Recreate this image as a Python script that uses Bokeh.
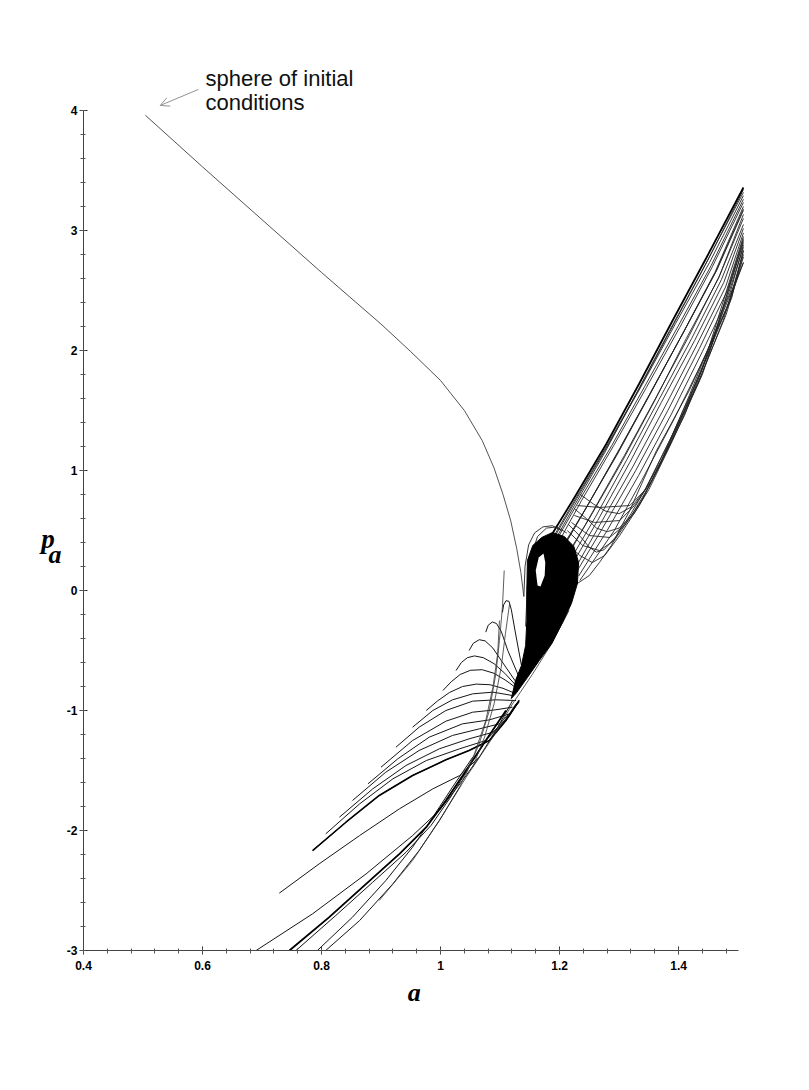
from bokeh.plotting import figure
from bokeh.models import FixedTicker, CustomJSTickFormatter, Label, Arrow, OpenHead
from bokeh.embed import file_html
from bokeh.resources import INLINE
import numpy as np

# ---------------- tick labels ----------------
x_ticks = [0.4, 0.6, 0.8, 1.0, 1.2, 1.4]
x_labels = ["0.4", "0.6", "0.8", "1", "1.2", "1.4"]
y_ticks = [-3, -2, -1, 0, 1, 2, 3, 4]
y_labels = ["-3", "-2", "-1", "0", "1", "2", "3", "4"]

# ---------------- data (a, p_a) ----------------
# trajectory from the sphere of initial conditions into the oscillation region
main_a = [0.504, 0.600, 0.700, 0.800, 0.900, 0.950, 1.000, 1.040, 1.070, 1.090, 1.105, 1.118, 1.128, 1.135, 1.140]
main_p = [3.96, 3.53, 3.09, 2.65, 2.22, 1.99, 1.75, 1.50, 1.25, 1.02, 0.80, 0.58, 0.35, 0.15, -0.05]

# densely filled oscillation region and the empty hole inside it
blob_a = [1.146, 1.155, 1.170, 1.188, 1.208, 1.224, 1.232, 1.230, 1.220, 1.205, 1.187, 1.166,
          1.146, 1.128, 1.119, 1.126, 1.136, 1.143, 1.145, 1.145]
blob_p = [0.250, 0.375, 0.442, 0.483, 0.450, 0.367, 0.233, 0.058, -0.108, -0.267, -0.442, -0.583,
          -0.725, -0.850, -0.900, -0.750, -0.625, -0.458, -0.250, 0.000]
hole_a = [1.163, 1.160, 1.165, 1.173, 1.176, 1.175, 1.168]
hole_p = [0.042, 0.167, 0.275, 0.308, 0.233, 0.125, 0.033]

# loops just outside the filled region
loop_a = [
    [1.140, 1.142, 1.148, 1.158, 1.172, 1.188, 1.203],
    [1.143, 1.146, 1.153, 1.163, 1.178, 1.195, 1.212],
]
loop_p = [
    [-0.050, 0.200, 0.380, 0.480, 0.530, 0.540, 0.500],
    [-0.300, 0.050, 0.300, 0.450, 0.520, 0.530, 0.480],
]

# expanding trajectories (upper band)
edge_a = [1.188, 1.222, 1.279, 1.334, 1.390, 1.447, 1.509]
edge_p = [0.475, 0.750, 1.225, 1.725, 2.250, 2.775, 3.358]

band_a = [
    [1.192, 1.225, 1.276, 1.329, 1.385, 1.444, 1.509],
    [1.190, 1.224, 1.280, 1.336, 1.392, 1.449, 1.509],
    [1.193, 1.229, 1.284, 1.339, 1.395, 1.452, 1.509],
    [1.196, 1.233, 1.288, 1.343, 1.399, 1.455, 1.509],
    [1.200, 1.237, 1.291, 1.346, 1.402, 1.457, 1.509],
    [1.203, 1.242, 1.296, 1.351, 1.407, 1.461, 1.509],
    [1.206, 1.245, 1.299, 1.353, 1.409, 1.463, 1.509],
    [1.208, 1.247, 1.301, 1.355, 1.410, 1.464, 1.509],
    [1.212, 1.250, 1.306, 1.360, 1.413, 1.467, 1.509],
    [1.217, 1.255, 1.309, 1.363, 1.418, 1.469, 1.509],
    [1.221, 1.260, 1.313, 1.367, 1.422, 1.472, 1.509],
    [1.225, 1.264, 1.318, 1.371, 1.427, 1.476, 1.509],
    [1.228, 1.268, 1.323, 1.377, 1.431, 1.479, 1.509],
    [1.230, 1.272, 1.328, 1.382, 1.435, 1.482, 1.509],
    [1.232, 1.280, 1.333, 1.388, 1.440, 1.486, 1.509],
    [1.234, 1.292, 1.338, 1.393, 1.445, 1.489, 1.509],
    [1.225, 1.250, 1.267, 1.287, 1.318, 1.363, 1.418, 1.481, 1.509],
    [1.208, 1.234, 1.255, 1.276, 1.301, 1.334, 1.368, 1.418, 1.469, 1.509],
    [1.213, 1.239, 1.267, 1.292, 1.321, 1.351, 1.385, 1.435, 1.486, 1.509],
    [1.220, 1.250, 1.284, 1.309, 1.338, 1.368, 1.410, 1.455, 1.509],
    [1.225, 1.259, 1.301, 1.326, 1.355, 1.388, 1.435, 1.475, 1.509],
    [1.230, 1.267, 1.318, 1.343, 1.371, 1.410, 1.455, 1.509],
    [1.215, 1.235, 1.250, 1.262, 1.275, 1.295, 1.320, 1.345, 1.380, 1.430, 1.480, 1.509],
    [1.225, 1.245, 1.262, 1.280, 1.300, 1.325, 1.350, 1.390, 1.440, 1.509],
    [1.235, 1.257, 1.278, 1.300, 1.322, 1.345, 1.385, 1.440, 1.509],
]
band_p = [
    [0.417, 0.708, 1.150, 1.642, 2.167, 2.708, 3.317],
    [0.450, 0.740, 1.210, 1.700, 2.220, 2.750, 3.340],
    [0.458, 0.767, 1.233, 1.717, 2.225, 2.733, 3.290],
    [0.430, 0.750, 1.210, 1.700, 2.200, 2.710, 3.260],
    [0.417, 0.750, 1.208, 1.692, 2.192, 2.700, 3.233],
    [0.350, 0.667, 1.125, 1.625, 2.142, 2.650, 3.200],
    [0.360, 0.690, 1.160, 1.650, 2.160, 2.660, 3.180],
    [0.375, 0.708, 1.183, 1.667, 2.167, 2.667, 3.167],
    [0.292, 0.600, 1.083, 1.583, 2.100, 2.600, 3.133],
    [0.317, 0.650, 1.125, 1.617, 2.125, 2.625, 3.100],
    [0.280, 0.610, 1.090, 1.590, 2.100, 2.590, 3.050],
    [0.250, 0.583, 1.067, 1.567, 2.083, 2.567, 3.017],
    [0.200, 0.550, 1.030, 1.530, 2.050, 2.530, 2.980],
    [0.167, 0.517, 1.000, 1.500, 2.017, 2.500, 2.933],
    [0.120, 0.500, 0.960, 1.470, 1.990, 2.470, 2.880],
    [0.083, 0.500, 0.917, 1.433, 1.958, 2.433, 2.833],
    [0.042, 0.125, 0.233, 0.375, 0.667, 1.167, 1.667, 2.358, 2.733],
    [0.417, 0.292, 0.233, 0.292, 0.458, 0.708, 1.042, 1.625, 2.250, 2.733],
    [0.500, 0.375, 0.333, 0.417, 0.625, 0.875, 1.208, 1.792, 2.417, 2.833],
    [0.567, 0.458, 0.442, 0.542, 0.750, 1.042, 1.458, 2.042, 2.917],
    [0.625, 0.567, 0.583, 0.708, 0.917, 1.250, 1.750, 2.250, 2.800],
    [0.708, 0.692, 0.708, 0.833, 1.083, 1.500, 2.050, 2.900],
    [0.550, 0.450, 0.360, 0.320, 0.340, 0.450, 0.640, 0.850, 1.200, 1.700, 2.300, 2.780],
    [0.680, 0.600, 0.520, 0.490, 0.520, 0.640, 0.840, 1.250, 1.800, 2.860],
    [0.800, 0.720, 0.660, 0.640, 0.700, 0.850, 1.250, 1.850, 2.950],
]

# collapsing trajectories with humps (lower-left fan)
fan_a = [
    [0.785, 0.841, 0.897, 0.953, 1.009, 1.048, 1.082, 1.110, 1.132],
    [0.807, 0.864, 0.920, 0.976, 1.032, 1.076, 1.104, 1.127],
    [0.830, 0.886, 0.942, 0.998, 1.048, 1.088, 1.116, 1.132],
    [0.852, 0.908, 0.964, 1.020, 1.065, 1.099, 1.121],
    [0.878, 0.928, 0.981, 1.037, 1.082, 1.116, 1.132],
    [0.900, 0.953, 1.009, 1.054, 1.093, 1.121],
    [0.925, 0.964, 1.009, 1.054, 1.093, 1.127],
    [0.953, 0.987, 1.020, 1.054, 1.088, 1.121],
    [0.976, 0.995, 1.015, 1.037, 1.060, 1.083, 1.105, 1.127],
    [1.004, 1.018, 1.033, 1.050, 1.070, 1.090, 1.110, 1.127],
    [1.026, 1.035, 1.045, 1.057, 1.072, 1.090, 1.108, 1.127],
    [1.048, 1.055, 1.065, 1.075, 1.088, 1.102, 1.127],
    [1.076, 1.080, 1.087, 1.094, 1.102, 1.113, 1.132],
    [1.104, 1.106, 1.110, 1.115, 1.119, 1.125, 1.136],
]
fan_p = [
    [-2.167, -1.931, -1.708, -1.542, -1.411, -1.333, -1.250, -1.083, -0.917],
    [-2.028, -1.778, -1.569, -1.417, -1.319, -1.250, -1.111, -0.944],
    [-1.889, -1.653, -1.458, -1.319, -1.236, -1.181, -1.042, -0.917],
    [-1.750, -1.514, -1.333, -1.208, -1.153, -1.111, -1.000],
    [-1.611, -1.403, -1.222, -1.111, -1.078, -1.028, -0.931],
    [-1.472, -1.250, -1.089, -1.014, -0.994, -0.972],
    [-1.306, -1.139, -1.000, -0.922, -0.911, -0.917],
    [-1.139, -1.000, -0.911, -0.861, -0.847, -0.875],
    [-1.000, -0.920, -0.850, -0.800, -0.780, -0.785, -0.815, -0.861],
    [-0.833, -0.760, -0.700, -0.665, -0.660, -0.690, -0.750, -0.811],
    [-0.667, -0.600, -0.560, -0.545, -0.560, -0.610, -0.690, -0.792],
    [-0.500, -0.440, -0.410, -0.420, -0.480, -0.583, -0.764],
    [-0.347, -0.290, -0.262, -0.275, -0.340, -0.500, -0.722],
    [-0.183, -0.120, -0.085, -0.090, -0.160, -0.330, -0.625],
]

# collapsing trajectories reaching the lower axis
drop_a = [
    [0.690, 0.785, 0.875, 0.953, 0.998, 1.037, 1.065, 1.093, 1.121],
    [0.746, 0.813, 0.875, 0.931, 0.976, 1.009, 1.043, 1.076, 1.110],
    [0.757, 0.824, 0.886, 0.942, 0.984, 1.015, 1.048],
    [0.793, 0.852, 0.908, 0.953, 0.987, 1.020, 1.054],
    [0.807, 0.864, 0.920, 0.964, 0.998, 1.032],
    [0.729, 0.796, 0.864, 0.931, 0.987, 1.032, 1.065],
]
drop_p = [
    [-3.000, -2.694, -2.361, -2.042, -1.833, -1.583, -1.389, -1.167, -0.917],
    [-3.000, -2.722, -2.444, -2.194, -1.972, -1.750, -1.500, -1.250, -1.000],
    [-3.000, -2.708, -2.431, -2.181, -1.958, -1.736, -1.472],
    [-3.000, -2.722, -2.417, -2.139, -1.889, -1.639, -1.389],
    [-3.000, -2.750, -2.444, -2.167, -1.917, -1.639],
    [-2.522, -2.278, -2.042, -1.819, -1.653, -1.542, -1.389],
]

# steep branches joining the oscillation region, and the lower-right envelope
rise_a = [
    [1.043, 1.065, 1.082, 1.093, 1.099, 1.104, 1.107],
    [1.054, 1.074, 1.090, 1.102, 1.109, 1.116],
    [1.032, 1.057, 1.076, 1.088, 1.096, 1.099],
    [0.897, 0.953, 0.998, 1.043, 1.088, 1.121, 1.155, 1.183, 1.216],
]
rise_p = [
    [-1.528, -1.278, -1.000, -0.694, -0.417, -0.139, 0.167],
    [-1.472, -1.222, -0.944, -0.639, -0.361, -0.111],
    [-1.639, -1.361, -1.083, -0.806, -0.528, -0.250],
    [-2.583, -2.250, -1.917, -1.556, -1.222, -0.944, -0.694, -0.472, -0.167],
]

# ---------------- figure ----------------
p = figure(frame_width=722, frame_height=980, x_range=(0.3227, 1.536), y_range=(-3.583, 4.583),
           output_backend="svg", toolbar_location=None,
           min_border_left=37, min_border_right=20, min_border_top=40, min_border_bottom=36)
p.xgrid.visible = False
p.ygrid.visible = False
p.outline_line_color = None
p.background_fill_color = "white"
p.border_fill_color = "white"

fmt_code = """
for (let i = 0; i < tvals.length; i++) {
  if (Math.abs(tick - tvals[i]) < 1e-6) { return tlabels[i]; }
}
return '';
"""
x_minor = [round(v, 2) for v in np.arange(0.4, 1.5, 0.04)]
y_minor = [round(v, 2) for v in np.arange(-3.0, 4.001, 0.2)]
p.xaxis.ticker = FixedTicker(ticks=x_ticks, minor_ticks=x_minor)
p.yaxis.ticker = FixedTicker(ticks=y_ticks, minor_ticks=y_minor)
p.xaxis.formatter = CustomJSTickFormatter(args=dict(tvals=x_ticks, tlabels=x_labels), code=fmt_code)
p.yaxis.formatter = CustomJSTickFormatter(args=dict(tvals=y_ticks, tlabels=y_labels), code=fmt_code)
p.xaxis.bounds = (0.4, 1.5)
p.yaxis.bounds = (-3.0, 4.0)
p.xaxis.fixed_location = -3.0
p.yaxis.fixed_location = 0.4

for ax in (p.xaxis[0], p.yaxis[0]):
    ax.axis_line_color = "#444444"
    ax.axis_line_width = 1
    ax.major_tick_line_color = "#333333"
    ax.major_tick_in = 4
    ax.major_tick_out = 4
    ax.minor_tick_line_color = "#555555"
    ax.minor_tick_in = 2
    ax.minor_tick_out = 3
    ax.major_label_text_font = "Liberation Sans"
    ax.major_label_text_font_style = "bold"
    ax.major_label_text_font_size = "12px"
    ax.major_label_text_color = "black"
p.xaxis.major_label_standoff = 6
p.yaxis.major_label_standoff = 2

# ---------------- glyphs ----------------
p.multi_line(band_a, band_p, line_color="#222222", line_width=0.9)
p.line(edge_a, edge_p, line_color="black", line_width=1.8)
p.multi_line(fan_a, fan_p, line_color="#151515", line_width=1.0)
p.multi_line(drop_a, drop_p, line_color="#151515", line_width=1.0)
p.line(drop_a[1], drop_p[1], line_color="black", line_width=1.8)
p.line(fan_a[0], fan_p[0], line_color="black", line_width=1.6)
p.multi_line(rise_a, rise_p, line_color="#333333", line_width=0.8)
p.multi_line(loop_a, loop_p, line_color="#222222", line_width=0.9)
p.line(main_a, main_p, line_color="#404040", line_width=0.9)
p.patch(blob_a, blob_p, fill_color="black", line_color="black", line_width=1)
p.patch(hole_a, hole_p, fill_color="white", line_color=None)

# ---------------- texts ----------------
p.add_layout(Label(x=0.605, y=4.266, text="sphere of initial", text_font="Liberation Sans",
                   text_font_size="22px", text_color="#111111", text_baseline="alphabetic"))
p.add_layout(Label(x=0.605, y=4.066, text="conditions", text_font="Liberation Sans",
                   text_font_size="22px", text_color="#111111", text_baseline="alphabetic"))
p.add_layout(Arrow(end=OpenHead(size=9, line_color="#777777", line_width=0.8),
                   x_start=0.593, y_start=4.175, x_end=0.529, y_end=4.042,
                   line_color="#777777", line_width=0.8))
p.add_layout(Label(x=0.329, y=0.433, text="p", text_font="Liberation Serif",
                   text_font_style="bold italic", text_font_size="27px", text_color="black",
                   text_baseline="alphabetic"))
p.add_layout(Label(x=0.341, y=0.300, text="a", text_font="Liberation Serif",
                   text_font_style="bold italic", text_font_size="26px", text_color="black",
                   text_baseline="alphabetic"))
p.add_layout(Label(x=0.956, y=-3.350, text="a", text_font="Liberation Serif",
                   text_font_style="bold italic", text_font_size="26px", text_color="black",
                   text_align="center", text_baseline="alphabetic"))

open("out.html", "w").write(file_html(p, INLINE))
